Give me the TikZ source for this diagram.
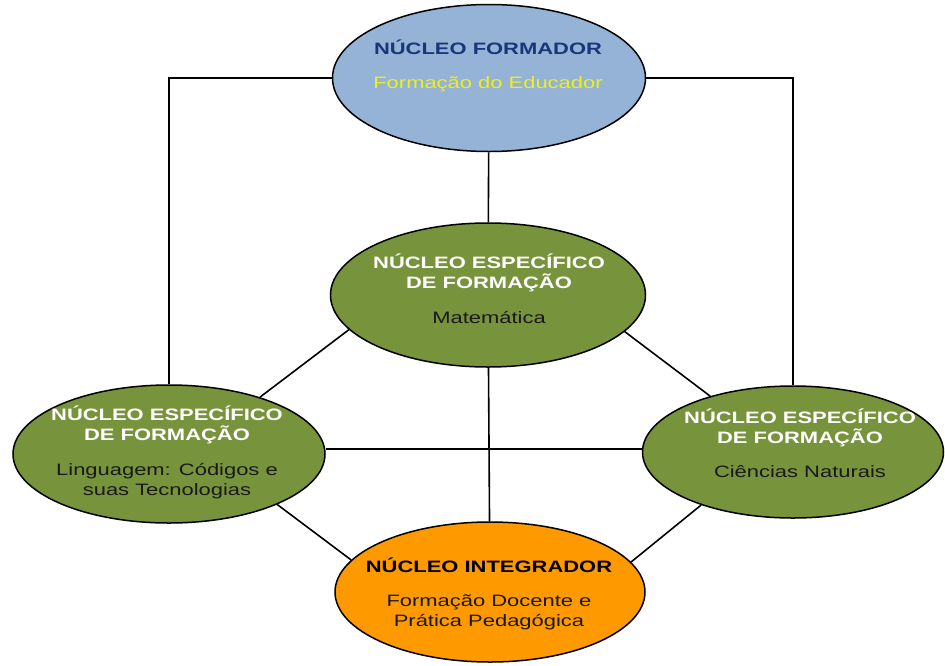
\documentclass[tikz,border=0pt]{standalone}
\usepackage{fontspec}
\setmainfont{Liberation Sans}[FakeStretch=1.33]
\usetikzlibrary{shapes.geometric}
\definecolor{blueF}{RGB}{149,179,215}
\definecolor{greenF}{RGB}{119,147,60}
\definecolor{orangeF}{RGB}{255,153,0}
\definecolor{navyT}{RGB}{23,55,120}
\definecolor{yellowT}{RGB}{240,240,20}
\definecolor{darkT}{RGB}{25,25,25}
\tikzset{
  oval/.style={ellipse, draw=black, line width=1.5pt, inner sep=0pt},
  conn/.style={draw=black, line width=1.6pt},
  ttl/.style={font=\fontsize{16.5}{20}\selectfont\bfseries, align=center, anchor=base, inner sep=0pt},
  bdy/.style={font=\fontsize{16.5}{20}\selectfont, align=center, anchor=base, inner sep=0pt},
}
\begin{document}
\begin{tikzpicture}[x=1pt,y=-1pt]
\useasboundingbox (0,0) rectangle (945,665);
% ellipses
\node[oval, fill=blueF, minimum width=313pt, minimum height=147pt] (top) at (489,78) {};
\node[oval, fill=greenF, minimum width=315pt, minimum height=144pt] (mid) at (488,295) {};
\node[oval, fill=greenF, minimum width=312pt, minimum height=138pt] (left) at (169,454) {};
\node[oval, fill=greenF, minimum width=301pt, minimum height=132pt] (right) at (793,452) {};
\node[oval, fill=orangeF, minimum width=310pt, minimum height=140pt] (bot) at (490,592) {};
% connectors
\coordinate (hline) at (0,449);
\draw[conn] (top) -- (mid);
\draw[conn] (mid) -- (bot);
\draw[conn] (left.north) |- (top.west);
\draw[conn] (right.north) |- (top.east);
\draw[conn] (mid.194) -- (left.32);
\draw[conn] (mid.345.6) -- (right.146.7);
\draw[conn] (left.335.6) -- (bot.167.6);
\draw[conn] (right.210) -- (bot.12.6);
\draw[conn] (hline -| left.east) -- (hline -| right.west);
% texts (base anchor of a multi-line node = last line)
\node[ttl, text=navyT] (ttop) at (488,54) {NÚCLEO FORMADOR};
\node[bdy, text=yellowT] (btop) at (488,88) {Formação do Educador};
\node[ttl, text=white] (tmid) at (489,288) {NÚCLEO ESPECÍFICO\\DE FORMAÇÃO};
\node[bdy, text=darkT] (bmid) at (489,323) {Matemática};
\node[ttl, text=white] (tleft) at (167,440) {NÚCLEO ESPECÍFICO\\DE FORMAÇÃO};
\node[bdy, text=darkT] (bleft) at (167,495) {Linguagem: Códigos e\\suas Tecnologias};
\node[ttl, text=white] (tright) at (800,443) {NÚCLEO ESPECÍFICO\\DE FORMAÇÃO};
\node[bdy, text=darkT] (bright) at (800,477) {Ciências Naturais};
\node[ttl, text=black] (tbot) at (489,572) {NÚCLEO INTEGRADOR};
\node[bdy, text=darkT] (bbot) at (489,626) {Formação Docente e\\Prática Pedagógica};
\end{tikzpicture}
\end{document}
